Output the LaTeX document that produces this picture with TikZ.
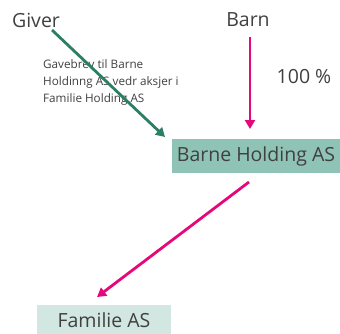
\documentclass[tikz,border=0pt]{standalone}
\usepackage{fontspec}
\setmainfont{Open Sans}
\usetikzlibrary{arrows.meta}
\definecolor{pinkc}{HTML}{E5087A}
\definecolor{greenc}{HTML}{2A7F66}
\definecolor{tealbox}{HTML}{8FC3B5}
\definecolor{lightbox}{HTML}{D2E6E2}
\definecolor{txt}{HTML}{404040}
\begin{document}
\begin{tikzpicture}[x=1pt,y=-1pt,
  lbl/.style={text=txt,font=\fontsize{19.5}{22}\selectfont,inner sep=0pt},
  boxA/.style={fill=tealbox,text=txt,font=\fontsize{19.5}{22}\selectfont,minimum width=168pt,minimum height=34pt,inner sep=0pt},
  boxB/.style={fill=lightbox,text=txt,font=\fontsize{19.5}{22}\selectfont,minimum width=134pt,minimum height=30pt,inner sep=0pt},
  parr/.style={draw=pinkc,line width=2.8pt,-{Triangle[length=9pt,width=10pt]}},
  garr/.style={draw=greenc,line width=2.8pt,-{Triangle[length=9pt,width=10pt]}}]
\useasboundingbox (0,0) rectangle (340,333);
\node[lbl] (giver) at (36,20) {Giver};
\node[lbl] (barn) at (248,20) {Barn};
\node[lbl] (pct) at (304,77) {100 \%};
\node[boxA] (bh) at (256,156) {Barne Holding AS};
\node[boxB] (fa) at (104,320) {Familie AS};
\node[text=txt,font=\fontsize{11.7}{17}\selectfont,align=left,anchor=north west,inner sep=0pt] (gave) at (43,59) {Gavebrev til Barne\\Holdinng AS vedr aksjer i\\Familie Holding AS};
\coordinate (gs) at (52,30);
\coordinate (ge) at (165,137);
\draw[garr] (gs) -- (ge);
\coordinate (bs) at (250,37);
\coordinate (be) at (250,129);
\draw[parr] (bs) -- (be);
\coordinate (ps) at (249,182);
\coordinate (pe) at (97,297);
\draw[parr] (ps) -- (pe);
\end{tikzpicture}
\end{document}
